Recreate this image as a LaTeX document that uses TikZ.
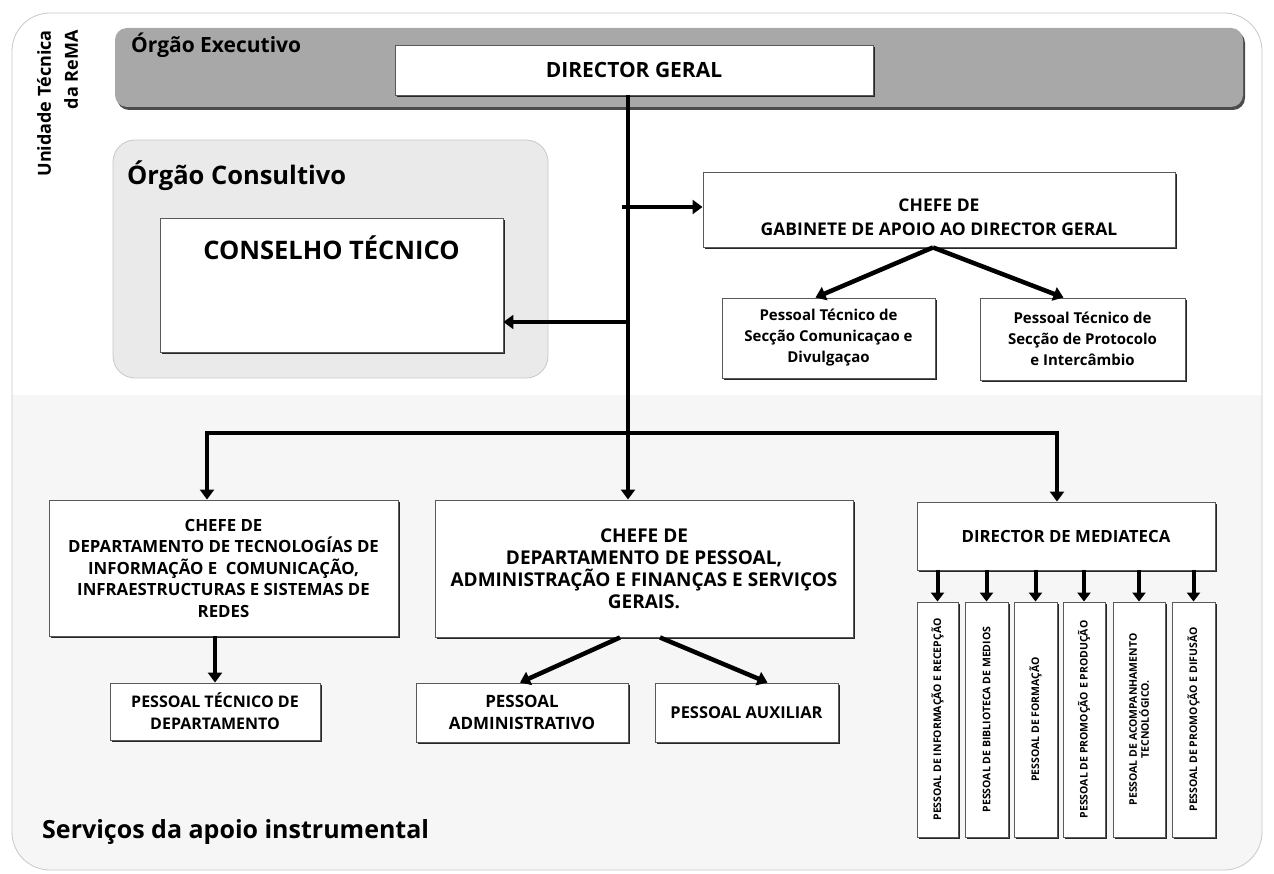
\documentclass[tikz,border=0pt]{standalone}
\usepackage{fontspec}
\setmainfont{Open Sans}
\usetikzlibrary{arrows.meta,shadows,calc}
\definecolor{framegray}{HTML}{C8C8C8}
\definecolor{bandgray}{HTML}{A8A8A8}
\definecolor{panelgray}{HTML}{EAEAEA}
\definecolor{lowergray}{HTML}{F6F6F6}
\begin{document}
\begin{tikzpicture}[x=1pt,y=-1pt,
  box/.style={draw=black!65, line width=0.9pt, fill=white, align=center,
    inner sep=2pt, font=\bfseries,
    drop shadow={shadow xshift=1.6pt,shadow yshift=-1.8pt,fill=black!85,opacity=1}},
  vtext/.style={rotate=90, align=center, font=\fontsize{10.5}{12}\selectfont\bfseries},
  conn/.style={line width=4.5pt, -{Triangle[width=14pt,length=10pt]}},
  trunkline/.style={line width=4.5pt},
  heading/.style={font=\bfseries, anchor=base west, inner sep=0pt}]

\useasboundingbox (0,0) rectangle (1274,874);

% frame of the whole sheet
\begin{scope}
  \clip[rounded corners=38pt] (12,13) rectangle (1262,870);
  \fill[white] (0,0) rectangle (1274,874);
  \fill[lowergray] (0,395) rectangle (1274,874);
\end{scope}
\draw[framegray, line width=0.8pt, rounded corners=38pt] (12,13) rectangle (1262,870);

% side title
\node[rotate=90, anchor=north east, align=right, inner sep=0pt,
  font=\fontsize{18}{27}\selectfont\bfseries] (unidade) at (37,30)
  {Unidade Técnica\\da ReMA};

% executive band
\fill[black!70, rounded corners=12pt] (117,31) rectangle (1245,110);
\fill[bandgray, rounded corners=12pt] (115,28) rectangle (1243,107);
\node[heading, font=\fontsize{21}{24}\selectfont\bfseries] (exec) at (131,53) {Órgão Executivo};

% consultative panel
\draw[framegray, fill=panelgray, line width=0.8pt, rounded corners=22pt] (113,140) rectangle (548,378);
\node[heading, font=\fontsize{25.5}{28}\selectfont\bfseries] (consul) at (127,185) {Órgão Consultivo};

% boxes
\node[box, minimum width=478, minimum height=50, font=\fontsize{21}{24}\selectfont\bfseries] (dg) at (634,70) {DIRECTOR GERAL};

\node[box, minimum width=343, minimum height=134] (ct) at (331.5,285) {};
\node[font=\fontsize{25.5}{28}\selectfont\bfseries, anchor=north, inner sep=0pt] (ctl) at ($(ct.north)+(0,18)$) {CONSELHO TÉCNICO};

\node[box, minimum width=472, minimum height=75, font=\fontsize{17.5}{24}\selectfont\bfseries] (gab) at (939,209.5) {};
\node[font=\fontsize{17.5}{24}\selectfont\bfseries, align=center, inner sep=0pt] (gabt) at ($(gab.center)+(0,8)$)
  {CHEFE DE\\GABINETE DE APOIO AO DIRECTOR GERAL};

\node[box, minimum width=213, minimum height=80, font=\fontsize{15}{21}\selectfont\bfseries] (com) at (828.5,338)
  {Pessoal Técnico de\\Secção Comunicaçao e\\Divulgaçao};
\node[box, minimum width=205, minimum height=82, font=\fontsize{15}{21}\selectfont\bfseries] (pro) at (1082.5,339)
  {Pessoal Técnico de\\Secção de Protocolo\\e Intercâmbio};

\node[box, minimum width=349, minimum height=136, font=\fontsize{16.8}{21.5}\selectfont\bfseries] (tic) at (223.5,568)
  {CHEFE DE\\DEPARTAMENTO DE TECNOLOGÍAS DE\\INFORMAÇÃO E\ \ COMUNICAÇÃO,\\INFRAESTRUCTURAS E SISTEMAS DE\\REDES};
\node[box, minimum width=210, minimum height=57, font=\fontsize{16}{22}\selectfont\bfseries] (ptd) at (215,711.5)
  {PESSOAL TÉCNICO DE\\DEPARTAMENTO};

\node[box, minimum width=418, minimum height=137, font=\fontsize{19}{22}\selectfont\bfseries] (dp) at (644,568.5)
  {CHEFE DE\\DEPARTAMENTO DE PESSOAL,\\ADMINISTRAÇÃO E FINANÇAS E SERVIÇOS\\GERAIS.};
\node[box, minimum width=212, minimum height=59, font=\fontsize{17}{22}\selectfont\bfseries] (adm) at (522,712.5)
  {PESSOAL\\ADMINISTRATIVO};
\node[box, minimum width=183, minimum height=59, font=\fontsize{16.4}{22}\selectfont\bfseries] (aux) at (746.5,712.5)
  {PESSOAL AUXILIAR};

\node[box, minimum width=298, minimum height=68, font=\fontsize{16.8}{20}\selectfont\bfseries] (med) at (1066,536)
  {DIRECTOR DE MEDIATECA};

% mediateca staff columns
\node[box, minimum width=41, minimum height=235] (m1) at (937.5,719.5) {};
\node[box, minimum width=43, minimum height=235] (m2) at (986.5,719.5) {};
\node[box, minimum width=43, minimum height=235] (m3) at (1035.5,719.5) {};
\node[box, minimum width=42, minimum height=235] (m4) at (1084,719.5) {};
\node[box, minimum width=52, minimum height=235] (m5) at (1139,719.5) {};
\node[box, minimum width=43, minimum height=235] (m6) at (1193.5,719.5) {};
\node[vtext] (m1t) at (m1) {PESSOAL DE INFORMAÇÃO E RECEPÇÃO};
\node[vtext] (m2t) at (m2) {PESSOAL DE BIBLIOTECA DE MEDIOS};
\node[vtext] (m3t) at (m3) {PESSOAL DE FORMAÇÃO};
\node[vtext] (m4t) at (m4) {PESSOAL DE PROMOÇÃO E PRODUÇÃO};
\node[vtext] (m5t) at (m5) {PESSOAL DE ACOMPANHAMENTO\\TECNOLÓGICO.};
\node[vtext] (m6t) at (m6) {PESSOAL DE PROMOÇÃO E DIFUSÃO};

% footer title
\node[heading, font=\fontsize{25}{28}\selectfont\bfseries] (servicos) at (42,838) {Serviços da apoio instrumental};

% trunk and branches
\coordinate (tt) at ($(dg.south)+(-6,0)$);
\coordinate (tb) at (628,433);
\coordinate (gj) at (622,207);
\coordinate (cj) at (628,322);
\coordinate (hl) at (207,433);
\coordinate (hr) at (1057,433);
\draw[trunkline] (tt) -- (tb);
\draw[trunkline, line cap=rect] (hl) -- (hr);

\draw[conn] (gj) -- (gj -| gab.west);
\draw[conn] (cj) -- (cj -| ct.east);
\draw[conn] ($(gab.south)+(-6,0)$) -- ($(com.north)+(-13,0)$);
\draw[conn] ($(gab.south)+(-6,0)$) -- ($(pro.north)+(-19,0)$);

\draw[conn] (hl) -- (hl |- tic.north);
\draw[conn] (tb) -- (tb |- dp.north);
\draw[conn] (hr) -- (hr |- med.north);

\draw[conn] (ptd.north |- tic.south) -- (ptd.north);
\draw[conn] ($(dp.south)+(-24,0)$) -- ($(adm.north)+(-2,0)$);
\draw[conn] ($(dp.south)+(16,0)$) -- ($(aux.north)+(21,0)$);

\foreach \m in {m1,m2,m3,m4,m5,m6}
  \draw[conn, line width=4pt, -{Triangle[width=13pt,length=9pt]}] (\m.north |- med.south) -- (\m.north);
\end{tikzpicture}
\end{document}
